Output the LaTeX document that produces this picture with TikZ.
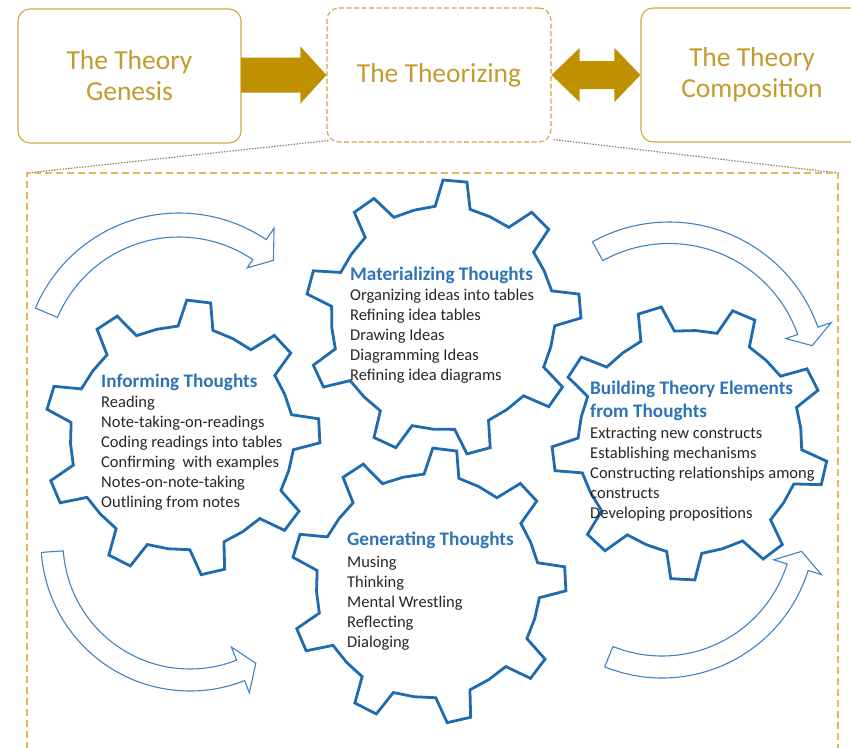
\documentclass[tikz,border=0pt]{standalone}
\usepackage{fontspec}
\setmainfont{Carlito}
\usetikzlibrary{calc}

\definecolor{gold}{HTML}{BF9000}
\definecolor{goldtext}{HTML}{C39A2C}
\definecolor{goldline}{HTML}{CFA646}
\definecolor{framegold}{HTML}{E2B85A}
\definecolor{dotbrown}{HTML}{8E7D5E}
\definecolor{gearblue}{HTML}{1F6BB0}
\definecolor{titleblue}{HTML}{2E74B5}
\definecolor{arcblue}{HTML}{4182C3}
\definecolor{bodytext}{HTML}{262626}

\tikzset{
  stagebox/.style={draw=goldline, line width=1.1pt, rounded corners=12pt,
    minimum height=134pt, inner sep=0pt, align=center, text=goldtext,
    font=\fontsize{27.5}{31}\selectfont},
  dashedbox/.style={stagebox, dash pattern=on 5pt off 2.5pt},
  blockarrow/.style={fill=gold},
  zoomline/.style={draw=dotbrown, line width=1.2pt, dash pattern=on 1.4pt off 1.4pt},
  framebox/.style={draw=framegold, line width=1.1pt, dash pattern=on 7pt off 4pt},
  gear/.style={draw=gearblue, line width=2.8pt},
  curvearrow/.style={draw=arcblue, line width=1.1pt, fill=white, line join=miter},
  gtitle/.style={anchor=base west, inner sep=0pt, text=titleblue,
    font=\bfseries\fontsize{19.2}{20}\selectfont},
  gitem/.style={anchor=base west, inner sep=0pt, text=bodytext,
    font=\fontsize{16.5}{20}\selectfont},
}

% gear with nine teeth: centre x, centre y, angle of the first tooth
\newcommand\gearoutline[3]{%
  \draw[gear, shift={(#1,#2)}] ({#3-9}:112)
    \foreach \k in {0,...,8}{
      -- ({#3+40*\k-5}:138) -- ({#3+40*\k+5}:138)
      -- ({#3+40*\k+9}:112) -- ({#3+40*\k+20}:111.6) -- ({#3+40*\k+31}:112)}
    -- cycle;}

% curved block arrow: centre x, centre y, inner radius, outer radius,
% tail angle, head angle, tip angle, inner flare radius, outer flare radius
\newcommand\bentarrow[9]{%
  \filldraw[curvearrow]
    plot[domain=#5:#6, samples=60] ({#1+#4*cos(\x)},{#2+#4*sin(\x)})
    -- ({#1+#9*cos(#6)},{#2+#9*sin(#6)})
    -- ({#1+(#3+#4)/2*cos(#7)},{#2+(#3+#4)/2*sin(#7)})
    -- ({#1+#8*cos(#6)},{#2+#8*sin(#6)})
    -- plot[domain=#6:#5, samples=60] ({#1+#3*cos(\x)},{#2+#3*sin(\x)})
    -- cycle;}

\begin{document}
\begin{tikzpicture}[x=1pt, y=-1pt]
\useasboundingbox (0,0) rectangle (851,747);

% the three stages
\node[stagebox, minimum width=223pt] (gen) at (129.5,76) {The Theory\\Genesis};
\node[dashedbox, minimum width=224pt] (thz) at (439,75) {The Theorizing};
\node[stagebox, minimum width=222pt] (cmp) at (752,75) {The Theory\\Composition};

% arrows between the stages
\fill[blockarrow] ($(gen.east|-thz.west)+(-0.5,-17.5)$) -- ($(thz.west)+(-26,-17.5)$)
  -- ($(thz.west)+(-26,-28.5)$) -- (thz.west) -- ($(thz.west)+(-26,28.5)$)
  -- ($(thz.west)+(-26,17.5)$) -- ($(gen.east|-thz.west)+(-0.5,17.5)$) -- cycle;
\fill[blockarrow] (thz.east) -- ++(28,-27) -- ++(0,13) -- ($(cmp.west)+(-26,-14)$)
  -- ++(0,-13) -- (cmp.west) -- ++(-26,27) -- ++(0,-13)
  -- ($(thz.east)+(28,14)$) -- ++(0,13) -- cycle;

% enlarged view of the theorizing stage
\coordinate (fnw) at (27,173);
\coordinate (fne) at (838,173);
\coordinate (fsw) at (27,760);
\coordinate (fse) at (838,760);
\draw[zoomline] ($(thz.south west)+(2,-2)$) -- (fnw);
\draw[zoomline] ($(thz.south east)+(2,-3)$) -- (fne);
\draw[framebox] (fsw) -- (fnw) -- (fne) -- (fse);

% circulation arrows
\bentarrow{179}{369}{132}{156}{203}{304}{311}{122}{170}
\bentarrow{669}{380}{136.5}{158}{241}{340.5}{346.5}{124}{172}
\bentarrow{190}{542}{127}{149}{176}{68.5}{61.5}{113}{162}
\bentarrow{662}{525}{131}{153}{112}{17.3}{10.7}{117}{167}

% the four gears
\gearoutline{182}{438}{-3}
\gearoutline{443}{318}{-5}
\gearoutline{428}{586}{-3}
\gearoutline{690}{442}{-27}

% Informing Thoughts
\node[gtitle] (inf) at (101,387) {Informing Thoughts};
\foreach \t [count=\i from 0] in {{Reading},{Note-taking-on-readings},
    {Coding readings into tables},{Confirming\ \ with examples},
    {Notes-on-note-taking},{Outlining from notes}}
  \node[gitem] (inf-\i) at (101,{407+20*\i}) {\t};

% Materializing Thoughts
\node[gtitle] (mat) at (350,280) {Materializing Thoughts};
\foreach \t [count=\i from 0] in {{Organizing ideas into tables},
    {Refining idea tables},{Drawing Ideas},{Diagramming Ideas},
    {Refining idea diagrams}}
  \node[gitem] (mat-\i) at (350,{300+20*\i}) {\t};

% Generating Thoughts
\node[gtitle] (gnr) at (347,545) {Generating Thoughts};
\foreach \t [count=\i from 0] in {{Musing},{Thinking},{Mental Wrestling},
    {Reflecting},{Dialoging}}
  \node[gitem] (gnr-\i) at (347,{567+20*\i}) {\t};

% Building Theory Elements from Thoughts
\node[gtitle] (bld) at (590,394) {Building Theory Elements};
\node[gtitle] (bld-b) at (590,417) {from Thoughts};
\foreach \t [count=\i from 0] in {{Extracting new constructs},
    {Establishing mechanisms},{Constructing relationships among},
    {constructs},{Developing propositions}}
  \node[gitem] (bld-\i) at (590,{438+20*\i}) {\t};

\end{tikzpicture}
\end{document}
